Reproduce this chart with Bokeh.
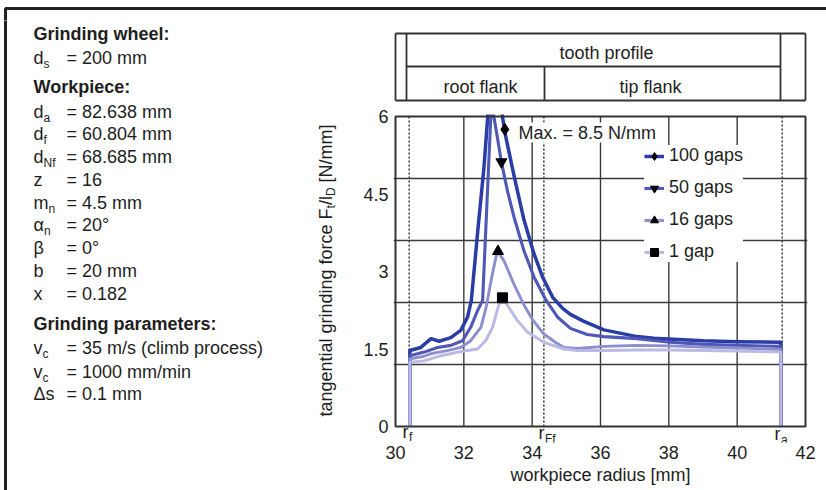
import math
from bokeh.plotting import figure
from bokeh.layouts import row, column
from bokeh.models import Label, Legend, LegendItem, FixedTicker
from bokeh.core.properties import value
from bokeh.embed import file_html
from bokeh.resources import INLINE

# ---------------- data ----------------
d_s = 200.0
d_a = 82.638
d_f = 60.804
d_Nf = 68.685
r_f = d_f / 2
r_Ff = d_Nf / 2
r_a = d_a / 2

x_ticks = [30, 32, 34, 36, 38, 40, 42]
x_grid = [32, 34, 36, 38, 40]
y_ticks = [0, 1.5, 3, 4.5, 6]
y_tick_labels = ["0", "1.5", "3", "4.5", "6"]
y_grid = [1.2, 2.4, 3.6, 4.8]

series_names = ["100 gaps", "50 gaps", "16 gaps", "1 gap"]

x_100 = [30.42, 30.42, 30.74, 31.04, 31.28, 31.62, 31.91, 32.11, 32.22, 32.40, 32.59, 32.98, 33.13, 33.23, 33.47,
         33.76, 34.05, 34.30, 34.60, 34.90, 35.12, 35.50, 36.10, 37.07, 37.56, 39.00, 40.00, 41.28, 41.28]
y_100 = [0.00, 1.47, 1.53, 1.70, 1.65, 1.72, 1.86, 2.12, 2.44, 3.73, 5.02, 8.50, 6.00, 5.60, 4.85,
         4.00, 3.35, 2.90, 2.50, 2.28, 2.17, 2.04, 1.87, 1.74, 1.71, 1.66, 1.64, 1.63, 0.00]

x_50 = [30.42, 30.42, 30.84, 31.23, 31.62, 31.96, 32.20, 32.40, 32.55, 32.79, 32.84, 32.88, 33.10, 33.28, 33.47,
        33.76, 34.05, 34.40, 34.74, 35.12, 35.61, 36.10, 37.07, 38.04, 39.02, 40.00, 41.28, 41.28]
y_50 = [0.00, 1.37, 1.44, 1.53, 1.57, 1.66, 1.92, 2.24, 2.44, 6.00, 6.30, 6.00, 5.12, 4.55, 4.05,
        3.40, 2.90, 2.45, 2.12, 1.90, 1.78, 1.74, 1.70, 1.63, 1.59, 1.57, 1.55, 0.00]

x_16 = [30.42, 30.42, 30.84, 31.04, 31.52, 31.91, 32.20, 32.50, 32.65, 32.82, 32.98, 33.18, 33.47, 33.76,
        34.00, 34.34, 34.70, 34.93, 35.32, 36.10, 37.07, 38.00, 39.00, 40.00, 41.28, 41.28]
y_16 = [0.00, 1.31, 1.36, 1.41, 1.47, 1.53, 1.66, 1.92, 2.30, 2.90, 3.40, 3.20, 2.75, 2.35,
        2.08, 1.79, 1.62, 1.53, 1.51, 1.55, 1.57, 1.56, 1.54, 1.52, 1.49, 0.00]

x_1 = [30.42, 30.42, 30.84, 31.33, 31.82, 32.11, 32.40, 32.64, 32.84, 33.00, 33.12, 33.28, 33.57, 33.86,
       34.34, 34.93, 35.32, 36.10, 37.07, 38.00, 39.00, 40.00, 41.28, 41.28]
y_1 = [0.00, 1.24, 1.27, 1.37, 1.44, 1.47, 1.50, 1.66, 1.92, 2.30, 2.50, 2.34, 2.05, 1.83,
       1.63, 1.50, 1.47, 1.47, 1.48, 1.48, 1.47, 1.46, 1.44, 0.00]

marker_x = [33.20, 33.10, 33.00, 33.13]
marker_y = [5.75, 5.12, 3.39, 2.49]
marker_types = ["diamond", "inverted_triangle", "triangle", "square"]
marker_sizes = [12, 11, 11, 10]
line_colors = ["#2a3ca6", "#4f58b6", "#8c8ed0", "#babae4"]
line_widths = [3.5, 3.1, 2.9, 2.9]

radius_names = [("r", "f"), ("r", "Ff"), ("r", "a")]

info_rows = [
    ("Grinding wheel:", "", "", 33, True),
    ("d", "s", "= 200 mm", 57, False),
    ("Workpiece:", "", "", 86, True),
    ("d", "a", "= 82.638 mm", 111, False),
    ("d", "f", "= 60.804 mm", 133, False),
    ("d", "Nf", "= 68.685 mm", 156, False),
    ("z", "", "= 16", 179, False),
    ("m", "n", "= 4.5 mm", 202, False),
    ("\u03b1", "n", "= 20\u00b0", 224, False),
    ("\u03b2", "", "= 0\u00b0", 247, False),
    ("b", "", "= 20 mm", 270, False),
    ("x", "", "= 0.182", 293, False),
    ("Grinding parameters:", "", "", 323, True),
    ("v", "c", "= 35 m/s (climb process)", 347, False),
    ("v", "c", "= 1000 mm/min", 371, False),
    ("\u0394s", "", "= 0.1 mm", 393, False),
]

# ---------------- page geometry (pixels) ----------------
W, H = 826, 490
TB = 20             # height of the thin top band (page border line)
LW = 340            # width of left text panel
HH = 104            # bottom of the tooth-profile header panel
PL, PR, PT, PB = 395, 805, 116, 426     # plot box in page pixels
FL, FR, FT, FB = 393, 807, 114, 442     # chart frame (slightly larger than plot box)
X0, X1, Y0, Y1 = 30.0, 42.0, 0.0, 6.0
KX = (PR - PL) / (X1 - X0)
KY = (PB - PT) / (Y1 - Y0)
FONT = "Liberation Sans"
TXT = "#1e1e1e"
FS = "18px"
SUB = "12px"

AW = {' ': 278, '[': 278, ']': 278, '/': 278, 'N': 722, 'm': 833, 'F': 611, 'D': 722,
      't': 278, 'a': 556, 'n': 556, 'g': 556, 'e': 556, 'i': 222, 'l': 222, 'r': 333,
      'd': 556, 'f': 278, 'o': 556, 'c': 500, 'v': 500, '\u03b1': 578}

def tw(s, size):
    return sum(AW.get(ch, 556) for ch in s) * size / 1000.0

def dx(px):
    return X0 + (px - PL) / KX

def dy(py):
    return Y0 + (PB - py) / KY

def blank(width, height, xr, yr, bl=0, br=0):
    f = figure(width=width, height=height, x_range=xr, y_range=yr,
               x_axis_type=None, y_axis_type=None, output_backend="svg",
               toolbar_location=None, min_border_left=bl, min_border_right=br,
               min_border_top=0, min_border_bottom=0)
    f.outline_line_color = None
    f.background_fill_color = "white"
    f.border_fill_color = "white"
    return f

def put_text(f, xs, ys, texts, size=FS, bold=False, align="left", angle=0.0):
    f.text(x=xs, y=ys, text=texts, text_font=value(FONT), text_font_size=value(size),
           text_font_style="bold" if bold else "normal", text_color=TXT,
           text_align=align, text_baseline="middle", angle=angle)

# ---------------- thin top band with the page border ----------------
band = blank(W, TB, (0, W), (0, TB))
BY = lambda py: TB - py
band.line(x=[5, 5, W + 5], y=[BY(TB + 5), BY(8), BY(8)], line_color="#222222", line_width=3)

# ---------------- left panel ----------------
left = blank(LW, H - TB, (0, LW), (0, H - TB))
LY = lambda py: H - py
left.line(x=[5, 5], y=[LY(H + 5), LY(TB - 5)], line_color="#222222", line_width=3)

for main, sub, rest, py, bold in info_rows:
    put_text(left, [33], [LY(py)], [main], bold=bold)
    if sub:
        put_text(left, [33 + tw(main, 18)], [LY(py + 6)], [sub], size=SUB)
    if rest:
        put_text(left, [66], [LY(py)], [rest])

# rotated y-axis title with subscripts
pieces = [("tangential grinding force F", 18, 0), ("t", 12, 5), ("/l", 18, 0), ("D", 12, 5),
          ("[N/mm]", 18, 0)]
total = sum(tw(s, sz) for s, sz, _ in pieces) + tw(" ", 18)
pos = 270 + total / 2
for s, sz, off in pieces:
    if s.startswith("["):
        pos -= tw(" ", 18)
    put_text(left, [325 + off], [LY(pos)], [s], size=f"{sz}px", angle=math.pi / 2)
    pos -= tw(s, sz)

# ---------------- tooth-profile header (frame aligned with the chart) ----------------
head = blank(W - LW, HH - TB, (FL, FR), (0, HH - TB), bl=FL - LW, br=W - FR)
HY = lambda py: HH - py
seg_x0 = [PL, PL, PR, PL, 406, 780, 406, 544]
seg_x1 = [PR, PR, PR, PL, 406, 780, 780, 544]
seg_y0 = [33, 100, 33, 33, 33, 33, 66, 66]
seg_y1 = [33, 100, 100, 100, 100, 100, 66, 100]
head.segment(x0=seg_x0, y0=[HY(v) for v in seg_y0], x1=seg_x1, y1=[HY(v) for v in seg_y1],
             line_color="#333333", line_width=1.8)
put_text(head, [606], [HY(52)], ["tooth profile"], align="center")
put_text(head, [480, 650], [HY(86), HY(86)], ["root flank", "tip flank"], align="center")

# ---------------- main chart ----------------
p = figure(width=W - LW, height=H - HH,
           x_range=(dx(FL), dx(FR)), y_range=(dy(FB), dy(FT)),
           output_backend="svg", toolbar_location=None,
           min_border_left=FL - LW, min_border_right=W - FR,
           min_border_top=FT - HH, min_border_bottom=H - FB)
p.background_fill_color = "white"
p.border_fill_color = "white"
p.outline_line_color = None

p.xgrid.visible = False
p.ygrid.ticker = FixedTicker(ticks=y_grid)
p.ygrid.grid_line_color = "#3a3a3a"
p.ygrid.grid_line_width = 1.4

p.xaxis.ticker = FixedTicker(ticks=x_ticks)
p.yaxis.ticker = FixedTicker(ticks=y_ticks)
p.yaxis.major_label_overrides = {t: l for t, l in zip(y_ticks, y_tick_labels)}
for ax in (p.xaxis, p.yaxis):
    ax.axis_line_color = None
    ax.major_tick_line_color = None
    ax.minor_tick_line_color = None
    ax.major_tick_out = 0
    ax.major_tick_in = 0
    ax.minor_tick_out = 0
    ax.minor_tick_in = 0
    ax.major_label_text_font = FONT
    ax.major_label_text_font_size = FS
    ax.major_label_text_color = TXT
    ax.axis_label_text_font = FONT
    ax.axis_label_text_font_size = FS
    ax.axis_label_text_font_style = "normal"
    ax.axis_label_text_color = TXT
p.xaxis.major_label_standoff = 3
p.xaxis.axis_label = "workpiece radius [mm]"
p.xaxis.axis_label_standoff = 3
p.yaxis.major_label_standoff = 5

# vertical grid lines and dotted characteristic radii (limited to the plot box)
p.segment(x0=x_grid, y0=[Y0] * len(x_grid), x1=x_grid, y1=[Y1] * len(x_grid),
          line_color="#3a3a3a", line_width=1.4)
radii = [r_f, r_Ff, r_a]
p.segment(x0=radii, y0=[Y0] * 3, x1=radii, y1=[Y1] * 3, line_color="#444444",
          line_width=1.6, line_dash="2 2")

xs_all = [x_100, x_50, x_16, x_1]
ys_all = [y_100, y_50, y_16, y_1]
items = []
for i in range(4):
    lr = p.line(xs_all[i], ys_all[i], line_color=line_colors[i], line_width=line_widths[i],
                line_join="round")
    sr = p.scatter([marker_x[i]], [marker_y[i]], marker=marker_types[i], size=marker_sizes[i],
                   fill_color="black", line_color="black")
    items.append(LegendItem(label=series_names[i], renderers=[lr, sr]))

# plot box
p.quad(left=[X0], right=[X1], bottom=[Y0], top=[Y1], fill_color=None, fill_alpha=0,
       line_color="#333333", line_width=2)

# radius labels below the axis line (inside the enlarged frame)
r_px = [402, 538, 774]
r_py = [431, 432, 433]
sub_dy = [5, 6, 6]
put_text(p, [dx(v) for v in r_px], [dy(v) for v in r_py], [n[0] for n in radius_names])
put_text(p, [dx(v + 6.5) for v in r_px], [dy(r_py[i] + sub_dy[i]) for i, v in enumerate(r_px)],
         [n[1] for n in radius_names], size=SUB)

legend = Legend(items=items, location=(644 - FL, FB - 262), background_fill_color="white",
                background_fill_alpha=1.0, border_line_color=None,
                label_text_font=FONT, label_text_font_size=FS, label_text_color=TXT,
                glyph_width=20, glyph_height=20, label_height=20, spacing=11,
                padding=4, label_standoff=5, margin=0)
p.add_layout(legend)

p.add_layout(Label(x=dx(518), y=dy(132), text="Max. = 8.5 N/mm", text_font=FONT,
                   text_font_size=FS, text_color=TXT, text_baseline="middle",
                   background_fill_color="white", background_fill_alpha=1.0))

layout = column(band, row(left, column(head, p, spacing=0), spacing=0), spacing=0)
open("out.html", "w").write(file_html(layout, INLINE))
